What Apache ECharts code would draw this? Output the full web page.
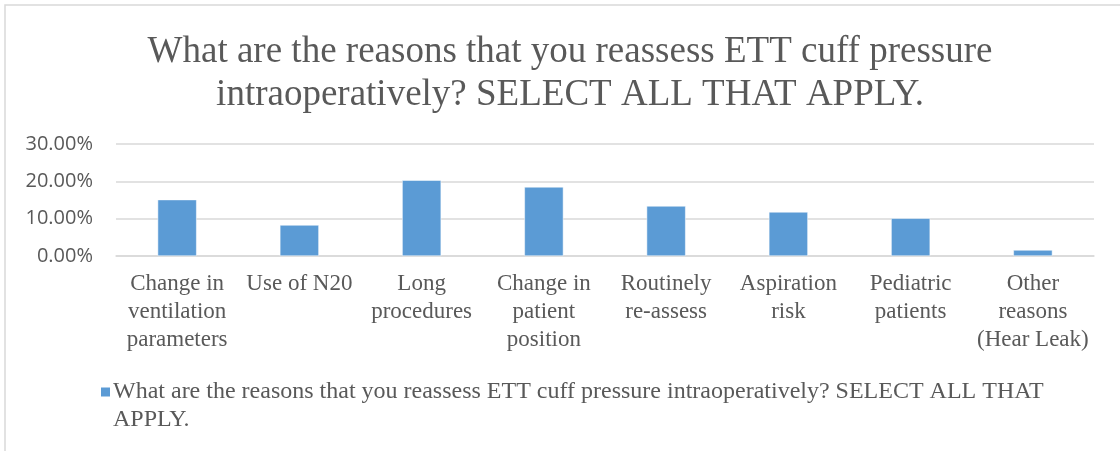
<!DOCTYPE html>
<html>
<head>
<meta charset="utf-8">
<script src="https://cdn.jsdelivr.net/npm/echarts@6/dist/echarts.min.js"></script>
<style>
html,body{margin:0;padding:0;background:#fff;}
#chart{width:1120px;height:451px;}
</style>
</head>
<body>
<div id="chart"></div>
<script>
const titleText = "What are the reasons that you reassess ETT cuff pressure\nintraoperatively? SELECT ALL THAT APPLY.";
const seriesName = "What are the reasons that you reassess ETT cuff pressure intraoperatively? SELECT ALL THAT APPLY.";
const legendLabel = "What are the reasons that you reassess ETT cuff pressure intraoperatively? SELECT ALL THAT\nAPPLY.";
const categories = [
  "Change in\nventilation\nparameters",
  "Use of N20",
  "Long\nprocedures",
  "Change in\npatient\nposition",
  "Routinely\nre-assess",
  "Aspiration\nrisk",
  "Pediatric\npatients",
  "Other\nreasons\n(Hear Leak)"
];
const values = [15.1, 8.3, 20.3, 18.5, 13.4, 11.8, 10.1, 1.6];
const yTicks = [0, 10, 20, 30];

const serif = '"Liberation Serif", "DejaVu Serif", serif';
const chart = echarts.init(document.getElementById('chart'), null, {renderer: 'canvas'});
chart.setOption({
  animation: false,
  backgroundColor: '#ffffff',
  graphic: [{
    type: 'rect',
    shape: {x: 5, y: 5, width: 1130, height: 460},
    style: {fill: 'none', stroke: '#d9d9d9', lineWidth: 1.5},
    silent: true
  }],
  title: {
    text: titleText,
    left: 565,
    textAlign: 'center',
    top: 26,
    textStyle: {
      fontFamily: serif,
      fontSize: 37,
      fontWeight: 'normal',
      color: '#595959',
      lineHeight: 43
    }
  },
  legend: {
    left: 94,
    top: 345,
    itemWidth: 11,
    itemHeight: 11,
    itemGap: 0,
    icon: 'rect',
    formatter: function () { return '\n' + legendLabel; },
    textStyle: {
      fontFamily: serif,
      fontSize: 24,
      color: '#595959',
      lineHeight: 28,
      padding: [0, 0, 0, -3]
    }
  },
  grid: {left: 116, right: 26, top: 144, bottom: 195},
  xAxis: {
    type: 'category',
    data: categories,
    axisLine: {show: true, lineStyle: {color: '#d9d9d9', width: 1.5}},
    axisTick: {show: false},
    axisLabel: {
      interval: 0,
      margin: 14,
      fontFamily: serif,
      fontSize: 23,
      lineHeight: 28,
      color: '#595959'
    }
  },
  yAxis: {
    type: 'value',
    min: yTicks[0],
    max: yTicks[yTicks.length - 1],
    interval: 10,
    axisLine: {show: false},
    axisTick: {show: false},
    splitLine: {lineStyle: {color: '#d9d9d9', width: 1.5}},
    axisLabel: {
      margin: 23,
      fontFamily: '"Open Sans", "Liberation Sans", sans-serif',
      fontSize: 20,
      color: '#595959',
      formatter: function (v) { return v.toFixed(2) + '%'; }
    }
  },
  series: [{
    name: seriesName,
    type: 'bar',
    data: values,
    barWidth: 39,
    itemStyle: {color: '#5b9bd5', borderColor: '#ffffff', borderWidth: 0.5}
  }]
});
</script>
</body>
</html>
